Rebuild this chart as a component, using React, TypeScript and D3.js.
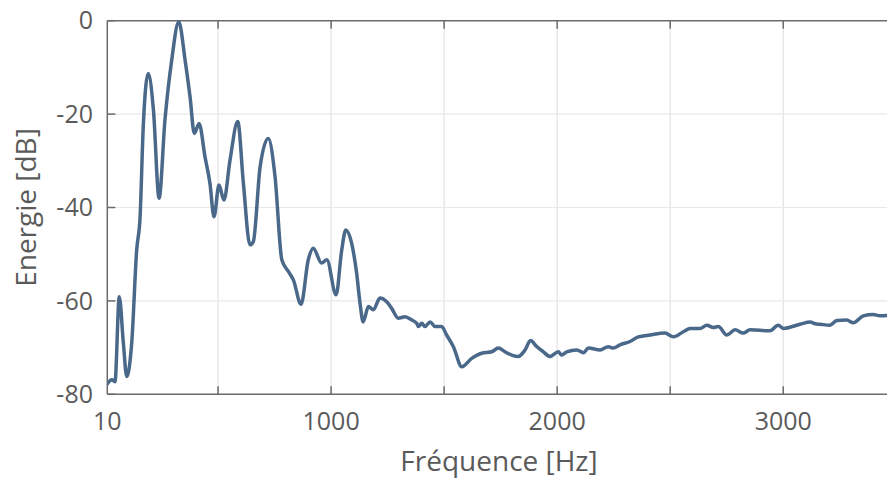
import React from "react";
import * as d3 from "d3";

const freqHz = [10, 30, 44, 63, 81, 96, 118, 140, 155, 169, 191, 214, 239, 265, 295, 326, 354, 376, 395, 416, 442, 464, 482, 504, 526, 553, 587, 612, 641, 656, 686, 722, 752, 782, 811, 833, 867, 899, 921, 958, 981, 1022, 1047, 1065, 1091, 1113, 1128, 1142, 1165, 1187, 1216, 1246, 1268, 1297, 1327, 1357, 1379, 1386, 1401, 1415, 1438, 1460, 1489, 1511, 1541, 1578, 1622, 1666, 1710, 1740, 1769, 1799, 1828, 1858, 1882, 1910, 1939, 1968, 2005, 2020, 2042, 2087, 2116, 2138, 2190, 2226, 2248, 2278, 2322, 2359, 2411, 2477, 2514, 2558, 2588, 2632, 2662, 2691, 2713, 2750, 2787, 2823, 2853, 2941, 2978, 3000, 3074, 3119, 3141, 3163, 3207, 3237, 3281, 3310, 3354, 3398, 3428, 3459];
const energyDb = [-77.8, -76.9, -77.3, -59.1, -69.0, -76.2, -69.0, -49.1, -42.0, -22.7, -11.3, -19.1, -38.0, -21.3, -8.4, -0.2, -8.4, -16.3, -24.1, -22.0, -29.1, -34.8, -42.0, -35.2, -38.4, -29.8, -21.6, -34.8, -48.0, -47.3, -31.3, -25.2, -33.4, -51.2, -53.7, -55.5, -60.7, -51.2, -48.7, -51.9, -51.2, -58.7, -49.1, -44.8, -47.7, -54.1, -60.5, -64.5, -61.2, -61.9, -59.4, -60.2, -61.6, -63.7, -63.4, -64.1, -64.8, -65.5, -64.8, -65.5, -64.5, -65.5, -65.5, -67.3, -69.8, -74.1, -72.3, -71.2, -70.9, -70.1, -70.9, -71.6, -71.9, -70.5, -68.5, -69.8, -70.9, -71.9, -70.9, -71.6, -70.9, -70.5, -71.1, -70.1, -70.5, -69.8, -70.1, -69.4, -68.7, -67.7, -67.3, -66.9, -67.7, -66.6, -65.9, -65.9, -65.2, -65.7, -65.5, -67.3, -66.2, -66.9, -66.2, -66.4, -65.2, -65.9, -65.0, -64.5, -64.9, -65.0, -65.2, -64.2, -64.1, -64.7, -63.2, -62.9, -63.2, -63.1];

const xGridTicks = [500, 1000, 1500, 2000, 2500, 3000];
const xLabelTicks = [10, 1000, 2000, 3000];
const yTicks = [0, -20, -40, -60, -80];

const W = 887;
const H = 479;
const left = 107.3;
const right = 887;
const top = 20.7;
const bottom = 394.3;

export default function App() {
  const x = d3.scaleLinear().domain([10, 3459]).range([left, right]);
  const y = d3.scaleLinear().domain([-80, 0]).range([bottom, top]);
  const pts: [number, number][] = freqHz.map((f, i) => [f, energyDb[i]]);
  const line = d3
    .line<[number, number]>()
    .x((d) => x(d[0]))
    .y((d) => y(d[1]))
    .curve(d3.curveMonotoneX);
  const font = "'Open Sans', 'Noto Sans', sans-serif";
  const textColor = "#5a5a5a";
  const axisColor = "#6b6b6b";
  return (
    <svg
      width={W}
      height={H}
      style={{ position: "absolute", left: 0, top: 0, background: "#fff" }}
      fontFamily={font}
    >
      <defs>
        <clipPath id="plot">
          <rect x={left} y={top - 4} width={right - left} height={bottom - top + 8} />
        </clipPath>
      </defs>
      {xGridTicks.map((t) => (
        <line key={"gx" + t} x1={x(t)} x2={x(t)} y1={top} y2={bottom} stroke="#e3e3e3" strokeWidth={1.2} />
      ))}
      {yTicks
        .filter((t) => t !== 0 && t !== -80)
        .map((t) => (
          <line key={"gy" + t} x1={left} x2={right} y1={y(t)} y2={y(t)} stroke="#e8e8e8" strokeWidth={1.2} />
        ))}
      <line x1={left} x2={right} y1={top} y2={top} stroke={axisColor} strokeWidth={1.5} />
      <line x1={left} x2={right} y1={bottom} y2={bottom} stroke={axisColor} strokeWidth={1.5} />
      <line x1={left} x2={left} y1={top} y2={bottom} stroke={axisColor} strokeWidth={1.5} />
      {xGridTicks.map((t) => (
        <g key={"tx" + t}>
          <line x1={x(t)} x2={x(t)} y1={top} y2={top + 8} stroke={axisColor} strokeWidth={1.5} />
          <line x1={x(t)} x2={x(t)} y1={bottom} y2={bottom - 8} stroke={axisColor} strokeWidth={1.5} />
        </g>
      ))}
      {yTicks.map((t) => (
        <line key={"ty" + t} x1={left} x2={left + 8} y1={y(t)} y2={y(t)} stroke={axisColor} strokeWidth={1.5} />
      ))}
      <path
        d={line(pts) || ""}
        fill="none"
        stroke="#4a6889"
        strokeWidth={3.5}
        strokeLinejoin="round"
        strokeLinecap="round"
        clipPath="url(#plot)"
      />
      {yTicks.map((t) => (
        <text key={"ly" + t} x={93} y={y(t)} dy="0.35em" textAnchor="end" fontSize={25} fill={textColor}>
          {t}
        </text>
      ))}
      {xLabelTicks.map((t) => (
        <text key={"lx" + t} x={x(t)} y={429.5} textAnchor="middle" fontSize={25} fill={textColor}>
          {t}
        </text>
      ))}
      <text x={499} y={471} textAnchor="middle" fontSize={28} fill={textColor}>
        Fréquence [Hz]
      </text>
      <text
        transform={`translate(35.5, ${(top + bottom) / 2}) rotate(-90)`}
        textAnchor="middle"
        fontSize={28}
        fill={textColor}
      >
        Energie [dB]
      </text>
    </svg>
  );
}
